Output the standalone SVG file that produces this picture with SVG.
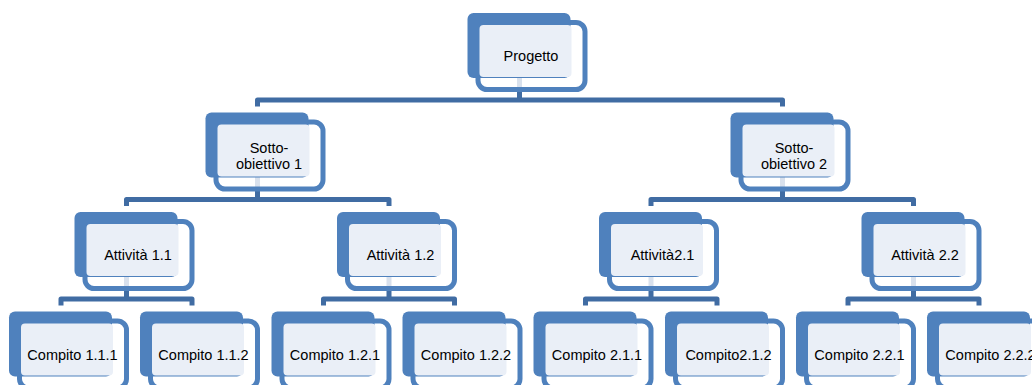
<svg xmlns="http://www.w3.org/2000/svg" width="1032" height="385" viewBox="0 0 1032 385">
<style>
.back{fill:#4F81BD}
.frame{fill:#FFFFFF;fill-opacity:0.8;stroke:#4F81BD;stroke-width:5}
.inner{fill:#EAEFF7}
.lbl{font-family:"Liberation Sans",Arial,sans-serif;font-size:14.5px;fill:#000;text-anchor:middle}
.conn{fill:none;stroke:#406CA3;stroke-width:5;stroke-linejoin:round}
</style>
<defs>
<g id="shape">
<rect class="frame" x="10.5" y="9.5" width="107" height="67" rx="9"/>
<rect class="back" x="0" y="0" width="103" height="65" rx="6"/>
<rect class="inner" x="12" y="12" width="92" height="52" rx="4"/>
</g>
</defs>
<rect width="1032" height="385" fill="#FFFFFF"/>
<g id="connectors">
<path class="conn" d="M519.5 64 V100 M257.5 106.5 V100 H782.5 V106.5"/>
<path class="conn" d="M257.5 176 V199.5 M126.5 206 V199.5 H389 V206"/>
<path class="conn" d="M782.5 176 V199.5 M651 206 V199.5 H913.5 V206"/>
<path class="conn" d="M126.5 276 V299 M61 305.5 V299 H192 V305.5"/>
<path class="conn" d="M389 276 V299 M323.5 305.5 V299 H454.5 V305.5"/>
<path class="conn" d="M651 276 V299 M585.5 305.5 V299 H717 V305.5"/>
<path class="conn" d="M913.5 276 V299 M848 305.5 V299 H979 V305.5"/>
</g>
<g id="progetto" transform="translate(467.5,13)"><use href="#shape"/><text class="lbl" x="63.5" y="48">Progetto</text></g>
<g id="sotto1" transform="translate(205.5,112.5)"><use href="#shape"/><text class="lbl" x="63.5" y="40">Sotto-</text><text class="lbl" x="63.5" y="56">obiettivo 1</text></g>
<g id="sotto2" transform="translate(730.5,112.5)"><use href="#shape"/><text class="lbl" x="63.5" y="40">Sotto-</text><text class="lbl" x="63.5" y="56">obiettivo 2</text></g>
<g id="att11" transform="translate(74.5,212)"><use href="#shape"/><text class="lbl" x="63.5" y="48">Attività 1.1</text></g>
<g id="att12" transform="translate(337,212)"><use href="#shape"/><text class="lbl" x="63.5" y="48">Attività 1.2</text></g>
<g id="att21" transform="translate(599,212)"><use href="#shape"/><text class="lbl" x="63.5" y="48">Attività2.1</text></g>
<g id="att22" transform="translate(861.5,212)"><use href="#shape"/><text class="lbl" x="63.5" y="48">Attività 2.2</text></g>
<g id="c111" transform="translate(9,311.5)"><use href="#shape"/><text class="lbl" x="63.5" y="48">Compito 1.1.1</text></g>
<g id="c112" transform="translate(140,311.5)"><use href="#shape"/><text class="lbl" x="63.5" y="48">Compito 1.1.2</text></g>
<g id="c121" transform="translate(271.5,311.5)"><use href="#shape"/><text class="lbl" x="63.5" y="48">Compito 1.2.1</text></g>
<g id="c122" transform="translate(402.5,311.5)"><use href="#shape"/><text class="lbl" x="63.5" y="48">Compito 1.2.2</text></g>
<g id="c211" transform="translate(533.5,311.5)"><use href="#shape"/><text class="lbl" x="63.5" y="48">Compito 2.1.1</text></g>
<g id="c212" transform="translate(665,311.5)"><use href="#shape"/><text class="lbl" x="63.5" y="48">Compito2.1.2</text></g>
<g id="c221" transform="translate(796,311.5)"><use href="#shape"/><text class="lbl" x="63.5" y="48">Compito 2.2.1</text></g>
<g id="c222" transform="translate(927,311.5)"><use href="#shape"/><text class="lbl" x="63.5" y="48">Compito 2.2.2</text></g>
</svg>
